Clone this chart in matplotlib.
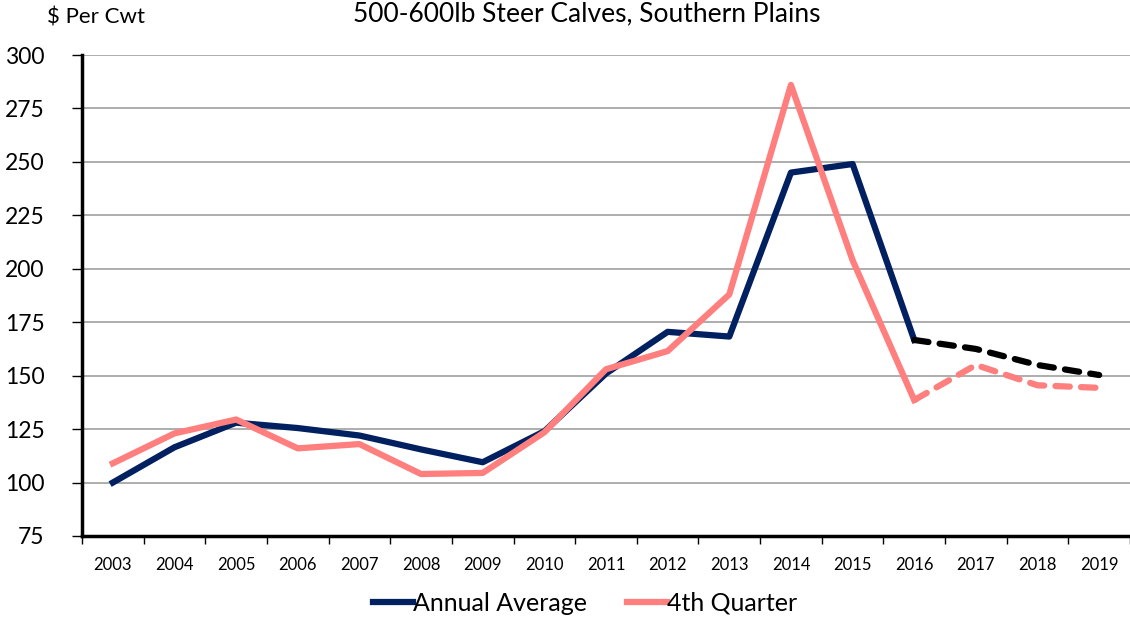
import matplotlib
matplotlib.use("Agg")
import matplotlib.pyplot as plt

plt.rcParams['font.family'] = ['Lato', 'DejaVu Sans']

years = [str(y) for y in range(2003, 2020)]
annual = [100, 116.5, 128, 125.5, 122, 115.5, 109.5, 124, 151, 170.5, 168.3, 245, 249, 166.7, 162.5, 155, 150.3]
q4 = [109, 123, 129.5, 116, 118, 104, 104.5, 123.5, 153, 161.5, 188, 286, 204, 138.6, 155, 145.5, 144.3]
n_actual = 14  # 2003-2016 are actual, rest projected

navy = '#002060'
pink = '#FF7F7F'
lw = 4.5

fig = plt.figure(figsize=(11.3, 6.21), dpi=100)
ax = fig.add_axes([82 / 1130, 1 - 536 / 621, 1 - 82 / 1130, (536 - 55) / 621])

x = list(range(len(years)))
ax.plot(x[:n_actual], annual[:n_actual], color=navy, lw=lw, label='Annual Average', zorder=3)
ax.plot(x[:n_actual], q4[:n_actual], color=pink, lw=lw, label='4th Quarter', zorder=4)
ax.plot(x[n_actual - 1:], annual[n_actual - 1:], color='black', lw=lw, ls=(0, (2.3, 1.8)),
        dash_capstyle='round', zorder=3)
ax.plot(x[n_actual - 1:], q4[n_actual - 1:], color=pink, lw=lw, ls=(0, (2.3, 1.8)),
        dash_capstyle='round', zorder=4)

ax.set_ylim(75, 300)
ax.set_yticks(range(75, 301, 25))
ax.set_xlim(-0.5, len(years) - 0.5)
ax.set_xticks(x)
ax.set_xticklabels(years, fontsize=12)
ax.set_xticks([i - 0.5 for i in range(len(years) + 1)], minor=True)
ax.tick_params(axis='x', which='major', length=0, pad=15)
ax.tick_params(axis='x', which='minor', length=6, width=1, color='black', direction='out')
ax.tick_params(axis='y', labelsize=16.5, length=7, width=1, direction='out', pad=20)

ax.grid(axis='y', color='#A0A0A0', lw=1.2)
ax.set_axisbelow(True)
for s in ['top', 'right']:
    ax.spines[s].set_visible(False)
ax.spines['left'].set_linewidth(2.5)
ax.spines['bottom'].set_linewidth(2.5)

fig.text(145 / 1130, 1 - 18 / 621, '$ Per Cwt', fontsize=16, ha='right', va='center')
fig.text(587 / 1130, 1 - 1 / 621, '500-600lb Steer Calves, Southern Plains', fontsize=19,
         ha='center', va='top')

ax.legend(loc='center', bbox_to_anchor=((585 - 82) / (1130 - 82), -0.14), ncol=2, frameon=False,
          fontsize=18, handlelength=1.6, handletextpad=0.0, columnspacing=1.6,
          bbox_transform=ax.transAxes)

fig.savefig('out.png', dpi=100)
